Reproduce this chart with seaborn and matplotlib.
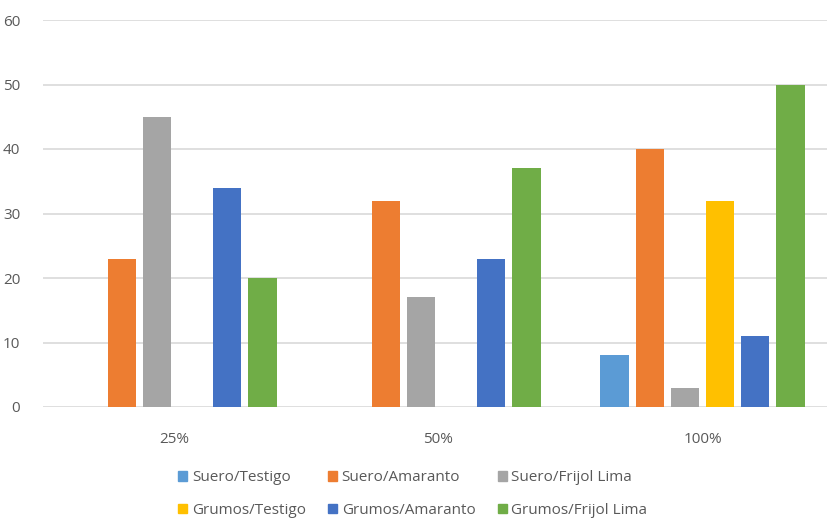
import matplotlib
matplotlib.use("Agg")
import matplotlib.pyplot as plt
import seaborn as sns
import pandas as pd

# Data
concentrations = ["25%", "50%", "100%"]
series = ["Suero/Testigo", "Suero/Amaranto", "Suero/Frijol Lima",
          "Grumos/Testigo", "Grumos/Amaranto", "Grumos/Frijol Lima"]
suero_testigo = [0, 0, 8]
suero_amaranto = [23, 32, 40]
suero_frijol = [45, 17, 3]
grumos_testigo = [0, 0, 32]
grumos_amaranto = [34, 23, 11]
grumos_frijol = [20, 37, 50]
y_ticks = [0, 10, 20, 30, 40, 50, 60]

palette = ["#5B9BD5", "#ED7D31", "#A5A5A5", "#FFC000", "#4472C4", "#70AD47"]

values = [suero_testigo, suero_amaranto, suero_frijol,
          grumos_testigo, grumos_amaranto, grumos_frijol]
rows = []
for name, vals in zip(series, values):
    for conc, v in zip(concentrations, vals):
        rows.append({"Concentración": conc, "Serie": name, "Valor": v})
df = pd.DataFrame(rows)

sns.set_theme(style="white")
plt.rcParams["font.family"] = ["Open Sans", "DejaVu Sans"]

fig = plt.figure(figsize=(8.27, 5.21), dpi=100)
ax = fig.add_axes([42.5 / 827, 1 - 407 / 521, 792 / 827, 387 / 521])

sns.barplot(data=df, x="Concentración", y="Valor", hue="Serie",
            hue_order=series, order=concentrations, palette=palette,
            width=0.8, gap=0.2, saturation=1, ax=ax, legend=False,
            edgecolor="none", errorbar=None)

ax.set_ylim(0, 60)
ax.set_xlim(-0.5, 2.5)
ax.set_yticks(y_ticks)
ax.set_yticklabels([str(t) for t in y_ticks])
ax.yaxis.grid(True, color="#d9d9d9", linewidth=1.2)
ax.set_axisbelow(True)
for s in ax.spines.values():
    s.set_visible(False)
ax.set_xlabel("")
ax.set_ylabel("")
ax.tick_params(axis="both", length=0, labelsize=11, labelcolor="#595959")
ax.tick_params(axis="y", pad=16)
ax.tick_params(axis="x", pad=18)

# Legend: two rows of three, filled column by column
handles = [plt.Rectangle((0, 0), 1, 1, color=c) for c in palette]
order = [0, 3, 1, 4, 2, 5]
fig.legend([handles[i] for i in order], [series[i] for i in order],
           ncol=3, loc="center", bbox_to_anchor=(0.499, 1 - 494 / 521),
           frameon=False, fontsize=11, labelcolor="#595959",
           handlelength=0.6, handleheight=0.6, handletextpad=0.3,
           columnspacing=1.45, labelspacing=1.15)

fig.savefig("out.png", dpi=100, facecolor="white")
